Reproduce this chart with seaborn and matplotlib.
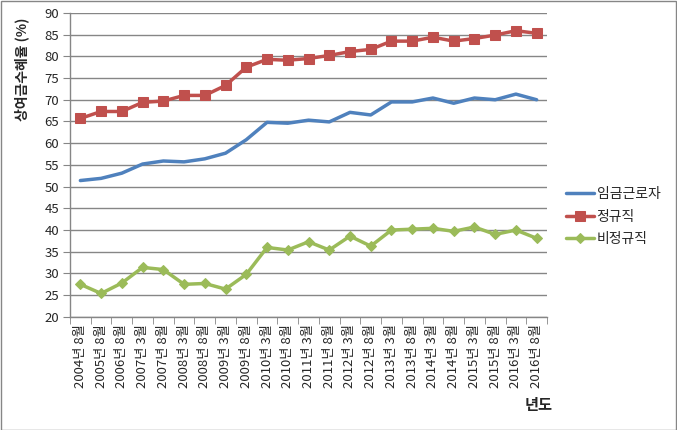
import numpy as np
import pandas as pd
import matplotlib.pyplot as plt
import seaborn as sns
from matplotlib.ticker import FixedLocator, NullFormatter

# survey periods
periods = ['2004년 8월', '2005년 8월', '2006년 8월', '2007년 3월', '2007년 8월',
           '2008년 3월', '2008년 8월', '2009년 3월', '2009년 8월', '2010년 3월',
           '2010년 8월', '2011년 3월', '2011년 8월', '2012년 3월', '2012년 8월',
           '2013년 3월', '2013년 8월', '2014년 3월', '2014년 8월', '2015년 3월',
           '2015년 8월', '2016년 3월', '2016년 8월']

# bonus coverage rate (%)
wage_workers = [51.4, 51.9, 53.1, 55.2, 55.9, 55.7, 56.4, 57.7, 60.8, 64.8, 64.6,
                65.3, 64.9, 67.1, 66.5, 69.5, 69.5, 70.4, 69.2, 70.4, 70.0, 71.3, 70.0]
regular = [65.7, 67.3, 67.3, 69.4, 69.7, 71.0, 71.0, 73.3, 77.5, 79.3, 79.1,
           79.5, 80.2, 81.1, 81.6, 83.5, 83.5, 84.4, 83.5, 84.1, 84.9, 85.9, 85.3]
irregular = [27.5, 25.4, 27.8, 31.4, 30.9, 27.5, 27.7, 26.4, 29.8, 36.0, 35.4,
             37.3, 35.4, 38.6, 36.3, 40.0, 40.2, 40.4, 39.7, 40.7, 39.0, 40.0, 38.1]

series_names = ['임금근로자', '정규직', '비정규직']
colors = ['#4F81BD', '#C0504D', '#9BBB59']
markers = [None, 's', 'D']

df = pd.DataFrame({'x': np.arange(len(periods)),
                   '임금근로자': wage_workers, '정규직': regular, '비정규직': irregular})
df_long = df.melt(id_vars='x', var_name='series', value_name='rate')

sns.set_style('white')
plt.rcParams['font.family'] = ['Noto Sans CJK KR', 'DejaVu Sans']

fig = plt.figure(figsize=(6.77, 4.30), dpi=100)
ax = fig.add_axes([0.1034, 0.263, 0.7046, 0.707])

for name, c, m in zip(series_names, colors, markers):
    sub = df_long[df_long['series'] == name]
    sns.lineplot(data=sub, x='x', y='rate', ax=ax, color=c, linewidth=2.5,
                 marker=m, markersize=7 if m == 's' else 5, markeredgecolor=c,
                 markerfacecolor=c, label=name)

ax.set_xlim(-0.5, len(periods) - 0.5)
ax.set_ylim(20, 90)
ax.set_yticks(np.arange(20, 91, 5))
ax.yaxis.grid(True, color='#868686', linewidth=1)
ax.xaxis.grid(False)
ax.set_axisbelow(True)

# labels in the middle of each category, tick marks on the boundaries
ax.set_xticks(np.arange(len(periods)))
ax.set_xticklabels(periods, rotation=90, fontsize=9.5)
ax.tick_params(axis='x', which='major', length=0, pad=5)
ax.xaxis.set_minor_locator(FixedLocator(np.arange(-0.5, len(periods), 1)))
ax.xaxis.set_minor_formatter(NullFormatter())
ax.tick_params(axis='x', which='minor', length=5, color='#868686', direction='out', bottom=True)
ax.tick_params(axis='y', labelsize=9.5, length=5, color='#868686', direction='out', left=True, pad=3)

for side in ['top', 'right']:
    ax.spines[side].set_visible(False)
for side in ['left', 'bottom']:
    ax.spines[side].set_color('#868686')
    ax.spines[side].set_linewidth(1)

ax.set_xlabel('')
ax.set_ylabel('상여금수혜율 (%)', fontsize=10, fontweight='bold')
ax.yaxis.set_label_coords(-0.085, 0.815)
fig.text(0.775, 0.058, '년도', fontsize=11, fontweight='bold', ha='left', va='center')

ax.legend(loc='center left', bbox_to_anchor=(1.04, 0.33), frameon=False, fontsize=10,
          handlelength=2.0, handletextpad=0.2, labelspacing=0.6,
          borderaxespad=0, borderpad=0)

# outer border like the chart area frame
fig.patches.append(plt.Rectangle((0.001, 0.001), 0.998, 0.997, transform=fig.transFigure,
                                 fill=False, edgecolor='#868686', linewidth=1))

plt.savefig('out.png', dpi=100)
